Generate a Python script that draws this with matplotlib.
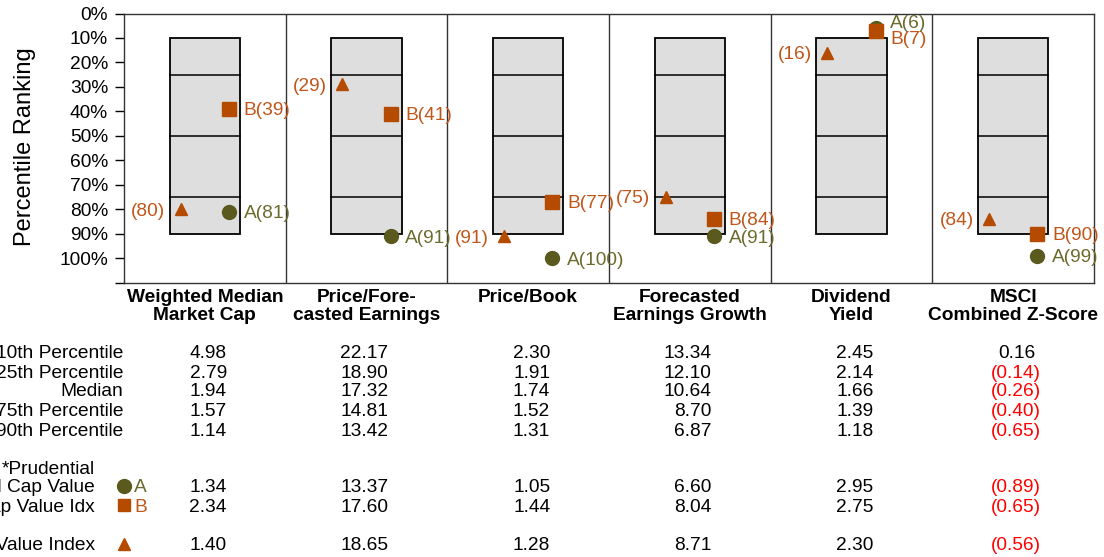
import matplotlib
matplotlib.use("Agg")
import matplotlib.pyplot as plt
import matplotlib.transforms as mtrans

plt.rcParams['font.family'] = ['Liberation Sans', 'DejaVu Sans']

categories = [("Weighted Median", "Market Cap"), ("Price/Fore-", "casted Earnings"),
              ("Price/Book", ""), ("Forecasted", "Earnings Growth"),
              ("Dividend", "Yield"), ("MSCI", "Combined Z-Score")]
box_pcts = [10, 25, 50, 75, 90]
fund_a = [81, 91, 100, 91, 6, 99]
fund_b = [39, 41, 77, 84, 7, 90]
index_t = [80, 29, 91, 75, 16, 84]

row_labels = ["10th Percentile", "25th Percentile", "Median", "75th Percentile", "90th Percentile"]
pct_table = [
    [4.98, 22.17, 2.30, 13.34, 2.45, 0.16],
    [2.79, 18.90, 1.91, 12.10, 2.14, -0.14],
    [1.94, 17.32, 1.74, 10.64, 1.66, -0.26],
    [1.57, 14.81, 1.52, 8.70, 1.39, -0.40],
    [1.14, 13.42, 1.31, 6.87, 1.18, -0.65],
]
a_vals = [1.34, 13.37, 1.05, 6.60, 2.95, -0.89]
b_vals = [2.34, 17.60, 1.44, 8.04, 2.75, -0.65]
idx_vals = [1.40, 18.65, 1.28, 8.71, 2.30, -0.56]

ORANGE, ORANGE_T = "#B54B00", "#C0561A"
OLIVE, OLIVE_T = "#5A5A1E", "#6B6B2E"
W, H = 1104, 557
FS = 13.8

fig = plt.figure(figsize=(W / 100, H / 100), dpi=100)
ax = fig.add_axes([124 / W, 1 - 282.5 / H, 970 / W, 269 / H])
ax.set_xlim(0, 6)
ax.set_ylim(110, 0)
ax.set_yticks(range(0, 111, 10))
ax.set_yticklabels([f"{v}%" for v in range(0, 101, 10)] + [""], fontsize=FS)
ax.tick_params(axis="y", length=6.5, width=1, pad=5)
ax.set_xticks([])
for s in ax.spines.values():
    s.set_linewidth(1)
    s.set_color("#333333")
for i in range(1, 6):
    ax.axvline(i, color="#333333", lw=1)

bw = 0.2165
for i in range(6):
    c = i + 0.5
    ax.add_patch(plt.Rectangle((c - bw, box_pcts[0]), 2 * bw, box_pcts[-1] - box_pcts[0],
                               facecolor="#DEDEDE", edgecolor="black", lw=1.3, zorder=1))
    for p in box_pcts[1:-1]:
        ax.plot([c - bw, c + bw], [p, p], color="black", lw=1.1, zorder=2)

    ax.plot(c + 0.15, fund_a[i], "o", ms=10, color=OLIVE, zorder=4, clip_on=False)
    ax.plot(c + 0.15, fund_b[i], "s", ms=9.5, color=ORANGE, zorder=5, clip_on=False)
    ax.plot(c - 0.15, index_t[i], "^", ms=9, color=ORANGE, zorder=5, clip_on=False)

    # label offsets (points); dividend column has A and B stacked
    dya, dyb = (5, -5) if abs(fund_a[i] - fund_b[i]) < 4 else (0, 0)
    ax.annotate(f"A({fund_a[i]})", (c + 0.15, fund_a[i]), xytext=(10.5, dya),
                textcoords="offset points", ha="left", va="center_baseline", color=OLIVE_T, fontsize=FS)
    ax.annotate(f"B({fund_b[i]})", (c + 0.15, fund_b[i]), xytext=(10.5, dyb),
                textcoords="offset points", ha="left", va="center_baseline", color=ORANGE_T, fontsize=FS)
    ax.annotate(f"({index_t[i]})", (c - 0.15, index_t[i]), xytext=(-11, 0),
                textcoords="offset points", ha="right", va="center_baseline", color=ORANGE_T, fontsize=FS)

fig.text(25 / W, 1 - 147 / H, "Percentile Ranking", rotation=90, ha="center", va="center", fontsize=17)

tr = mtrans.blended_transform_factory(ax.transData, fig.transFigure)
fy = lambda px: 1 - px / H

for i, (l1, l2) in enumerate(categories):
    fig.text(i + 0.5, fy(295), l1, transform=tr, ha="center", va="center_baseline", fontsize=FS, fontweight="bold")
    fig.text(i + 0.5, fy(313), l2, transform=tr, ha="center", va="center_baseline", fontsize=FS, fontweight="bold")

def num_row(vals, ypx):
    for i, v in enumerate(vals):
        x = i + 0.5 + 0.136
        if v < 0:
            fig.text(x + 0.037, fy(ypx), f"({abs(v):.2f})", transform=tr, ha="right", va="center_baseline",
                     fontsize=FS, color="red")
        else:
            fig.text(x, fy(ypx), f"{v:.2f}", transform=tr, ha="right", va="center_baseline", fontsize=FS)

row_y = [352, 371, 390, 409, 429]
for lab, vals, y in zip(row_labels, pct_table, row_y):
    fig.text(123 / W, fy(y), lab, ha="right", va="center_baseline", fontsize=FS)
    num_row(vals, y)

fig.text(95 / W, fy(467), "*Prudential", ha="right", va="center_baseline", fontsize=FS)
fig.text(95 / W, fy(486), "Small Cap Value", ha="right", va="center_baseline", fontsize=FS)
fig.text(95 / W, fy(505), "Russell Midcap Value Idx", ha="right", va="center_baseline", fontsize=FS)
fig.text(95 / W, fy(544), "Russell 1000 Value Index", ha="right", va="center_baseline", fontsize=FS)

fig.lines.append(plt.Line2D([124 / W], [fy(486)], marker="o", ms=10, color=OLIVE, transform=fig.transFigure))
fig.lines.append(plt.Line2D([124 / W], [fy(505)], marker="s", ms=9, color=ORANGE, transform=fig.transFigure))
fig.lines.append(plt.Line2D([124 / W], [fy(544)], marker="^", ms=9, color=ORANGE, transform=fig.transFigure))
fig.text(134 / W, fy(486), "A", ha="left", va="center_baseline", fontsize=FS, color=OLIVE_T)
fig.text(134 / W, fy(505), "B", ha="left", va="center_baseline", fontsize=FS, color=ORANGE_T)

num_row(a_vals, 486)
num_row(b_vals, 505)
num_row(idx_vals, 544)

fig.savefig("out.png", dpi=100)
